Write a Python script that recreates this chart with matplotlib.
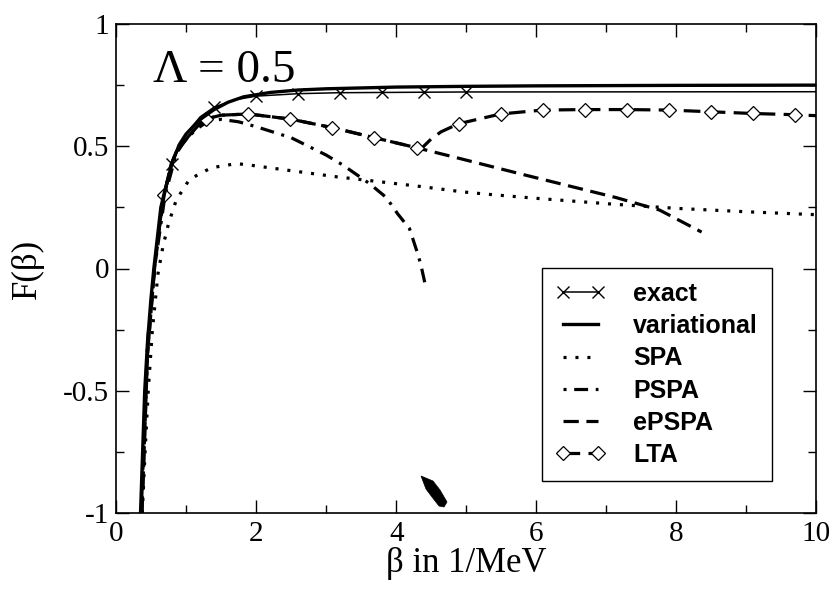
import matplotlib
matplotlib.use("Agg")
import matplotlib.pyplot as plt
from matplotlib.ticker import MultipleLocator, FixedLocator
from matplotlib.patches import Polygon

plt.rcParams['font.family'] = ['Liberation Serif', 'DejaVu Serif']
plt.rcParams['axes.unicode_minus'] = False
plt.rcParams['lines.scale_dashes'] = False

# ---------------- data ----------------
exact_x = [0.36, 0.40, 0.45, 0.50, 0.55, 0.60, 0.70, 0.80, 0.90, 1.00, 1.20, 1.40, 1.70, 2.00,
           2.60, 3.20, 3.80, 4.40, 5.00, 10.0]
exact_y = [-1.0, -0.62, -0.32, -0.12, 0.01, 0.12, 0.30, 0.427, 0.50, 0.55, 0.62, 0.66, 0.69, 0.705,
           0.715, 0.719, 0.720, 0.721, 0.722, 0.723]
exact_marks = [7, 11, 13, 14, 15, 16, 17, 18]

var_x = [0.35, 0.38, 0.41, 0.45, 0.50, 0.54, 0.60, 0.64, 0.69, 0.80, 0.90, 1.00, 1.19, 1.40, 1.60,
         1.82, 2.20, 2.60, 3.00, 4.00, 5.00, 6.00, 8.00, 10.0]
var_y = [-1.0, -0.75, -0.50, -0.30, -0.12, 0.00, 0.15, 0.25, 0.31, 0.43, 0.505, 0.55, 0.607, 0.65,
         0.68, 0.702, 0.72, 0.73, 0.735, 0.742, 0.745, 0.747, 0.749, 0.750]

spa_x = [0.375, 0.42, 0.46, 0.52, 0.60, 0.67, 0.75, 0.86, 1.05, 1.36, 1.72, 1.91, 2.50, 3.15,
         3.67, 4.39, 4.93, 5.29, 6.00, 7.10, 8.00, 9.00, 10.0]
spa_y = [-1.0, -0.72, -0.50, -0.25, -0.02, 0.09, 0.184, 0.28, 0.365, 0.412, 0.429, 0.423, 0.40,
         0.375, 0.358, 0.334, 0.314, 0.304, 0.287, 0.263, 0.246, 0.232, 0.220]

pspa_x = [0.36, 0.45, 0.55, 0.70, 0.86, 1.00, 1.15, 1.30, 1.50, 1.75, 2.00, 2.50, 3.00, 3.24,
          3.62, 3.86, 4.02, 4.19, 4.29, 4.35, 4.41]
pspa_y = [-1.0, -0.30, 0.00, 0.30, 0.47, 0.53, 0.57, 0.60, 0.61, 0.60, 0.58, 0.535, 0.464, 0.423,
          0.347, 0.29, 0.224, 0.163, 0.075, 0.018, -0.06]

epspa_x = [0.37, 0.45, 0.55, 0.62, 0.69, 0.78, 0.86, 1.03, 1.19, 1.29, 1.50, 1.89, 2.49, 3.09,
           3.69, 4.29, 4.81, 5.76, 7.14, 7.76, 8.36]
epspa_y = [-1.0, -0.35, 0.00, 0.17, 0.302, 0.42, 0.477, 0.539, 0.59, 0.612, 0.627, 0.632, 0.611,
           0.576, 0.535, 0.494, 0.457, 0.388, 0.29, 0.239, 0.149]

lta_x = [0.37, 0.45, 0.55, 0.62, 0.69, 0.78, 0.86, 1.03, 1.19, 1.29, 1.50, 1.89, 2.49, 3.09,
         3.69, 4.29, 4.35, 4.50, 4.64, 4.89, 5.49, 6.09, 6.69, 7.29, 7.89, 8.49, 9.09, 9.69, 10.0]
lta_y = [-1.0, -0.35, 0.00, 0.17, 0.302, 0.42, 0.477, 0.539, 0.59, 0.612, 0.627, 0.632, 0.611,
         0.576, 0.535, 0.494, 0.488, 0.53, 0.559, 0.592, 0.632, 0.648, 0.650, 0.650, 0.648, 0.641,
         0.634, 0.629, 0.625]
lta_marks = [4, 9, 11, 12, 13, 14, 15, 19, 20, 21, 22, 23, 24, 25, 26, 27]

x_ticks = [0, 2, 4, 6, 8, 10]
y_ticks = [-1, -0.5, 0, 0.5, 1]
y_tick_labels = ['-1', '-0.5', '0', '0.5', '1']
labels = ['exact', 'variational', 'SPA', 'PSPA', 'ePSPA', 'LTA']

# ---------------- figure ----------------
W, H = 837, 589
fig = plt.figure(figsize=(W / 100, H / 100), dpi=100)
L, R, T, B = 116, 816.5, 24, 513
ax = fig.add_axes([L / W, 1 - B / H, (R - L) / W, (B - T) / H])

ax.plot(exact_x, exact_y, color='black', lw=1.1, marker='x', markersize=8,
        markeredgewidth=1.0, markevery=exact_marks, label=labels[0], zorder=5)
ax.plot(var_x, var_y, color='black', lw=2.4, label=labels[1], zorder=6)
ax.plot(spa_x, spa_y, color='black', lw=2.3, linestyle=(0, (2.2, 6.4)), label=labels[2])
ax.plot(pspa_x, pspa_y, color='black', lw=2.3, linestyle=(0, (2.2, 5.5, 10, 5.5)), label=labels[3])
ax.plot(epspa_x, epspa_y, color='black', lw=2.3, linestyle=(0, (11, 5.5)), label=labels[4])
ax.plot(lta_x, lta_y, color='black', lw=2.3, linestyle=(0, (12, 6)), marker='D',
        markersize=7, markerfacecolor='white', markeredgecolor='black',
        markeredgewidth=0.9, markevery=lta_marks, label=labels[5], zorder=4)

ax.set_xlim(0, 10)
ax.set_ylim(-1, 1)
ax.xaxis.set_major_locator(FixedLocator(x_ticks))
ax.xaxis.set_minor_locator(MultipleLocator(1))
ax.yaxis.set_major_locator(FixedLocator(y_ticks))
ax.set_yticklabels(y_tick_labels)
ax.set_xticklabels([str(v) for v in x_ticks])
ax.yaxis.set_minor_locator(MultipleLocator(0.25))
ax.tick_params(which='both', direction='in', top=True, right=True, width=1.0)
ax.tick_params(which='major', length=9.5, labelsize=21)
ax.tick_params(axis='x', which='major', pad=6)
ax.tick_params(axis='y', which='major', pad=5)
ax.tick_params(which='minor', length=5.5)
for s in ax.spines.values():
    s.set_linewidth(1.2)

ax.set_xlabel('β in 1/MeV', fontsize=25, labelpad=0)
ax.set_ylabel('F(β)', fontsize=25, labelpad=14)

ax.text(0.53, 0.763, 'Λ = 0.5', fontsize=34, ha='left', va='baseline')

leg = ax.legend(loc='upper left', bbox_to_anchor=((542 - L) / (R - L), (B - 268) / (B - T)),
                borderaxespad=0, numpoints=2, handlelength=2.0, handletextpad=1.1,
                borderpad=0.55, labelspacing=0.33, fancybox=False, framealpha=1,
                edgecolor='black', prop={'family': 'Liberation Sans', 'weight': 'bold', 'size': 18})
leg.get_frame().set_linewidth(1.0)

# small pen-nib glyph near the x axis
pen_px = [(421, 476), (433, 481), (440, 490), (447, 502), (444, 507), (439, 506), (432, 497), (426, 489)]
pen_ax = [((px - L) / (R - L), (B - py) / (B - T)) for px, py in pen_px]
ax.add_patch(Polygon(pen_ax, closed=True, transform=ax.transAxes, facecolor='black',
                     edgecolor='black', lw=0.5, clip_on=False))

fig.savefig('out.png', dpi=100)
